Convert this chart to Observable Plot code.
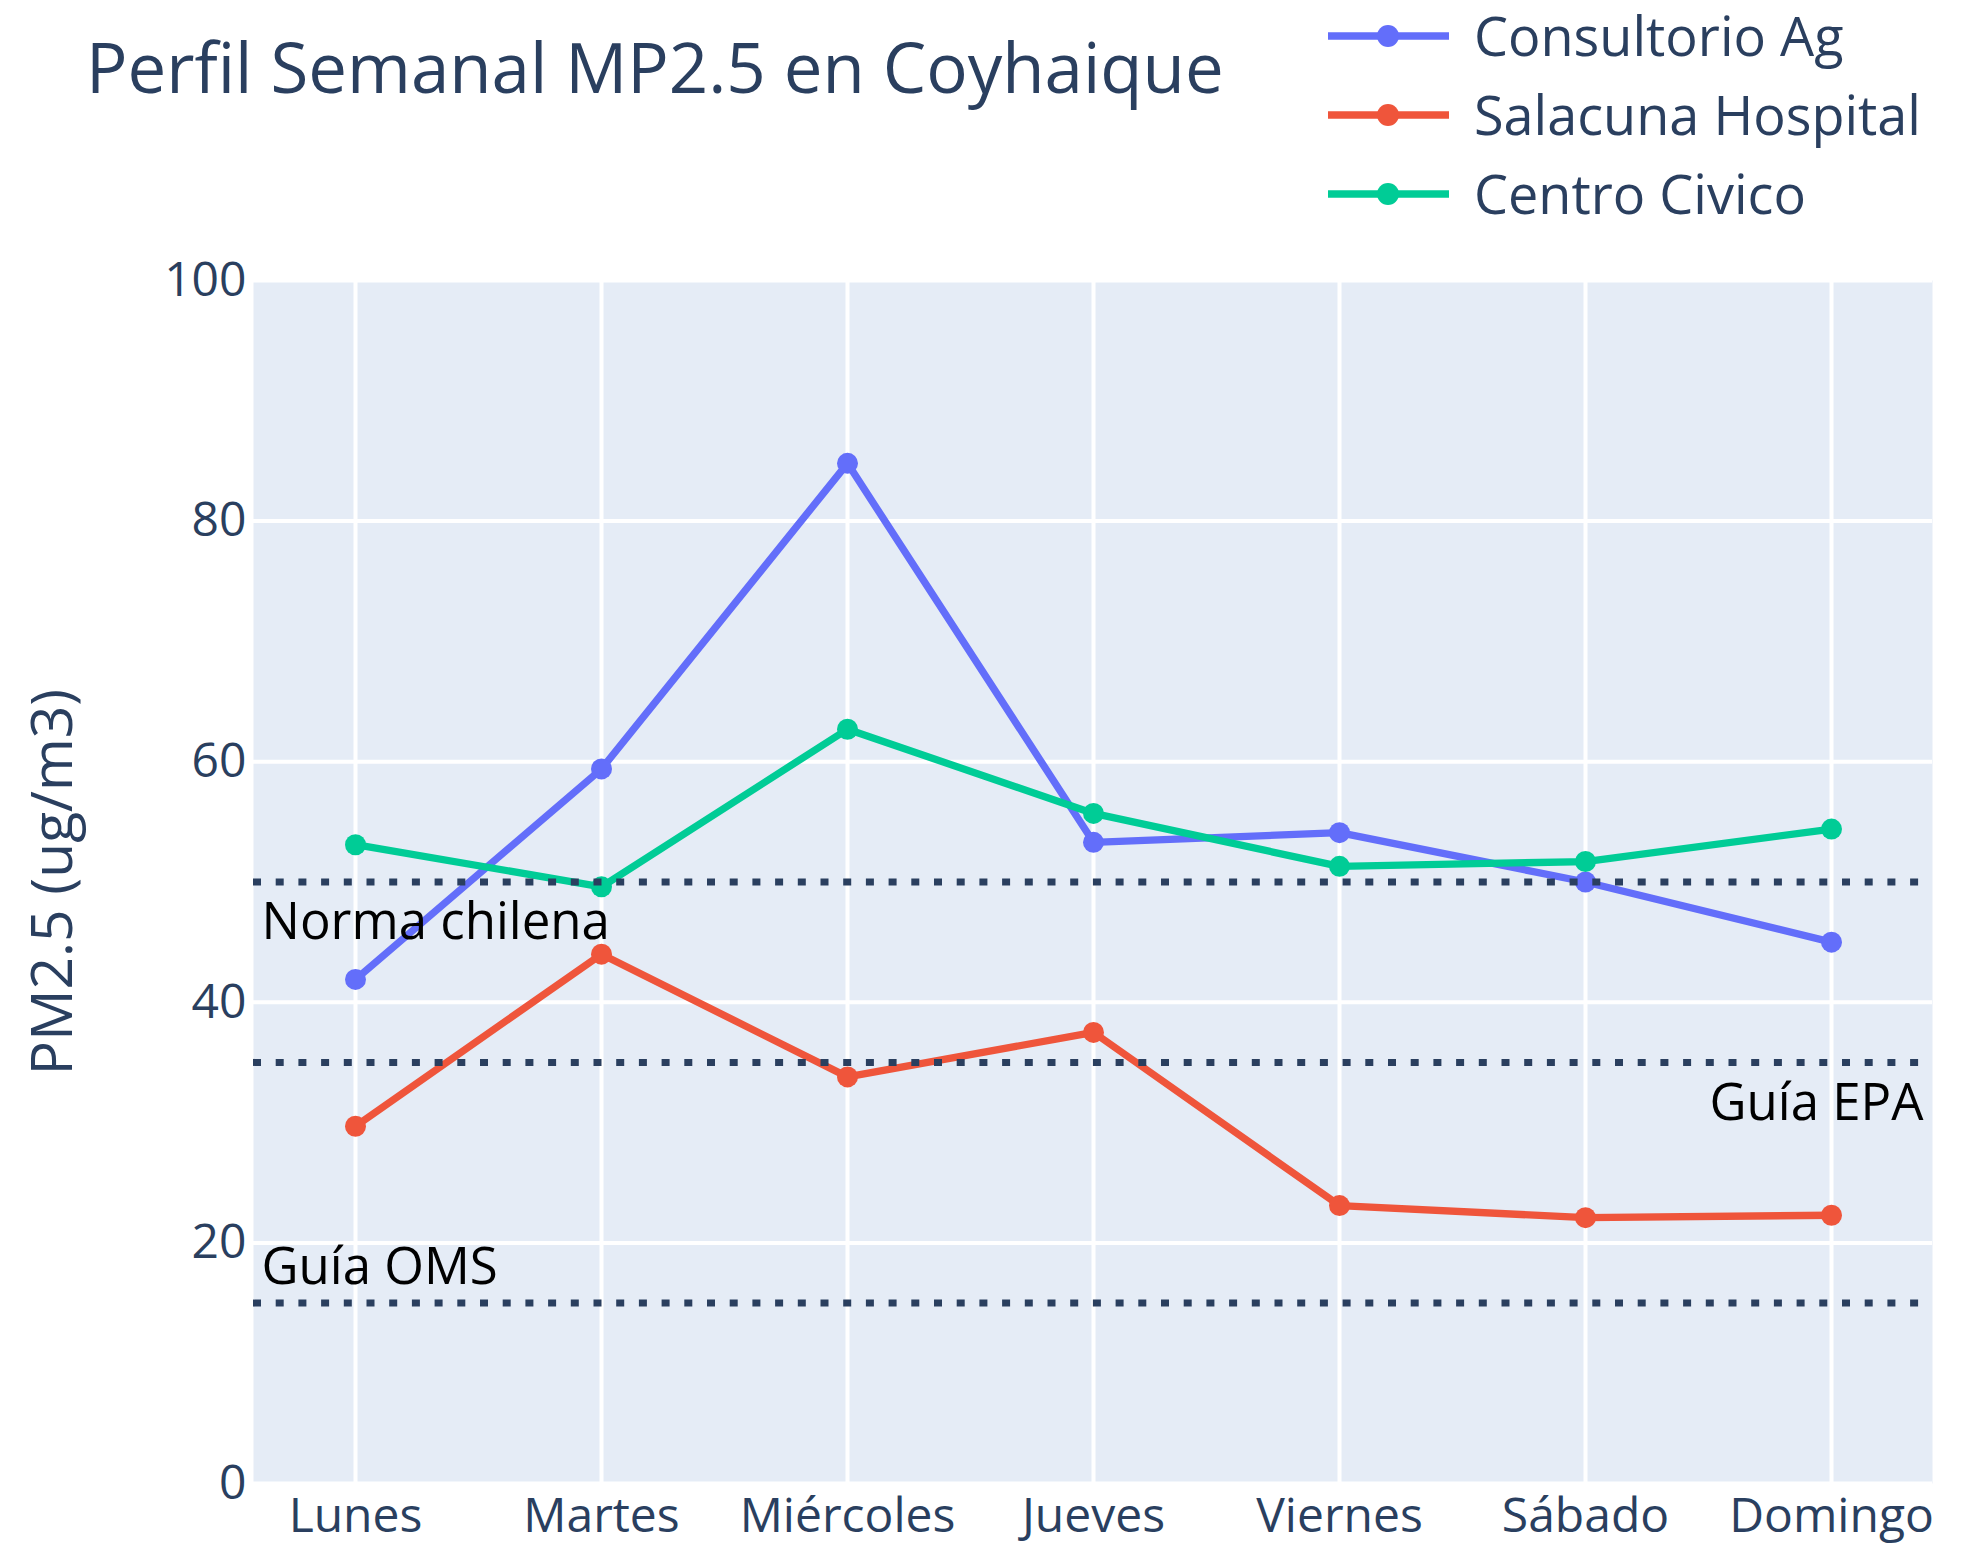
<!DOCTYPE html>
<html>
<head>
<meta charset="utf-8">
<script src="https://cdn.jsdelivr.net/npm/d3@7"></script>
<script src="https://cdn.jsdelivr.net/npm/@observablehq/plot@0.6"></script>
<style>
  html, body { margin: 0; padding: 0; background: #fff; }
  #wrap { position: relative; width: 1979px; height: 1546px; font-family: 'Open Sans', sans-serif; }
  #title { position: absolute; left: 86px; top: 32px; font-size: 69px; line-height: 1; color: #2a3f5f; white-space: nowrap; }
  #legend { position: absolute; left: 1328px; top: -4px; }
  .row { display: flex; align-items: center; height: 79px; }
  .row span { font-size: 54px; color: #2a3f5f; margin-left: 24px; white-space: nowrap; line-height: 79px; }
  #chart { position: absolute; left: 0; top: 0; }
</style>
</head>
<body>
<div id="wrap">
  <div id="chart"></div>
  <div id="title"></div>
  <div id="legend"></div>
</div>
<script>
const days = ["Lunes", "Martes", "Miércoles", "Jueves", "Viernes", "Sábado", "Domingo"];
const seriesNames = ["Consultorio Ag", "Salacuna Hospital", "Centro Civico"];
const consultorioAg = [41.9, 59.4, 84.8, 53.3, 54.1, 50.0, 45.0];
const salacunaHospital = [29.7, 44.0, 33.8, 37.5, 23.1, 22.1, 22.3];
const centroCivico = [53.1, 49.6, 62.7, 55.7, 51.3, 51.7, 54.4];
const seriesColors = ["#636efa", "#EF553B", "#00cc96"];
const refValues = [50, 35, 15];
const refLabels = ["Norma chilena", "Guía EPA", "Guía OMS"];
const yTicks = [0, 20, 40, 60, 80, 100];
const titleText = "Perfil Semanal MP2.5 en Coyhaique";
const yLabel = "PM2.5 (ug/m3)";

const seriesValues = [consultorioAg, salacunaHospital, centroCivico];
const data = [];
seriesNames.forEach((s, i) => days.forEach((d, j) => data.push({series: s, day: d, value: seriesValues[i][j]})));
const refs = refValues.map((v, i) => ({value: v, label: refLabels[i]}));

document.getElementById("title").textContent = titleText;

const legend = document.getElementById("legend");
seriesNames.forEach((s, i) => {
  const row = document.createElement("div");
  row.className = "row";
  const ns = "http://www.w3.org/2000/svg";
  const svg = document.createElementNS(ns, "svg");
  svg.setAttribute("width", 122); svg.setAttribute("height", 30);
  const line = document.createElementNS(ns, "line");
  line.setAttribute("x1", 0); line.setAttribute("x2", 121); line.setAttribute("y1", 15); line.setAttribute("y2", 15);
  line.setAttribute("stroke", seriesColors[i]); line.setAttribute("stroke-width", 7.5);
  const c = document.createElementNS(ns, "circle");
  c.setAttribute("cx", 60); c.setAttribute("cy", 15); c.setAttribute("r", 11); c.setAttribute("fill", seriesColors[i]);
  svg.appendChild(line); svg.appendChild(c);
  const t = document.createElement("span");
  t.textContent = s;
  row.appendChild(svg); row.appendChild(t);
  legend.appendChild(row);
});

const chart = Plot.plot({
  width: 1979,
  height: 1546,
  marginTop: 280,
  marginBottom: 63,
  marginLeft: 253,
  marginRight: 47,
  style: {fontFamily: "'Open Sans', sans-serif", background: "transparent"},
  x: {type: "point", domain: days, padding: 0.4},
  y: {domain: [0, 100]},
  color: {domain: seriesNames, range: seriesColors},
  marks: [
    Plot.frame({fill: "#E5ECF6", stroke: null}),
    Plot.gridY(yTicks, {stroke: "white", strokeOpacity: 1, strokeWidth: 4}),
    Plot.gridX({stroke: "white", strokeOpacity: 1, strokeWidth: 4}),
    Plot.axisY(yTicks, {tickSize: 0, tickPadding: 7, fontSize: 48, fill: "#2a3f5f", label: null}),
    Plot.axisX({tickSize: 0, tickPadding: 14, fontSize: 48, fill: "#2a3f5f", label: null}),
    Plot.text([yLabel], {frameAnchor: "left", textAnchor: "middle", rotate: -90, dx: -200, fontSize: 57, fill: "#2a3f5f"}),
    Plot.line(data, {x: "day", y: "value", z: "series", stroke: "series", strokeWidth: 7.3}),
    Plot.dot(data, {x: "day", y: "value", fill: "series", r: 10.5}),
    Plot.ruleY(refs, {y: "value", stroke: "#2a3f5f", strokeWidth: 7, strokeDasharray: "8,14.7"}),
    Plot.text(refs.filter((d, i) => i === 0), {y: "value", text: "label", frameAnchor: "left", textAnchor: "start", dx: 8, dy: 41, fontSize: 51, fill: "black"}),
    Plot.text(refs.filter((d, i) => i === 1), {y: "value", text: "label", frameAnchor: "right", textAnchor: "end", dx: -9, dy: 41, fontSize: 51, fill: "black"}),
    Plot.text(refs.filter((d, i) => i === 2), {y: "value", text: "label", frameAnchor: "left", textAnchor: "start", dx: 8, dy: -35, fontSize: 51, fill: "black"})
  ]
});
document.getElementById("chart").appendChild(chart);
</script>
</body>
</html>
